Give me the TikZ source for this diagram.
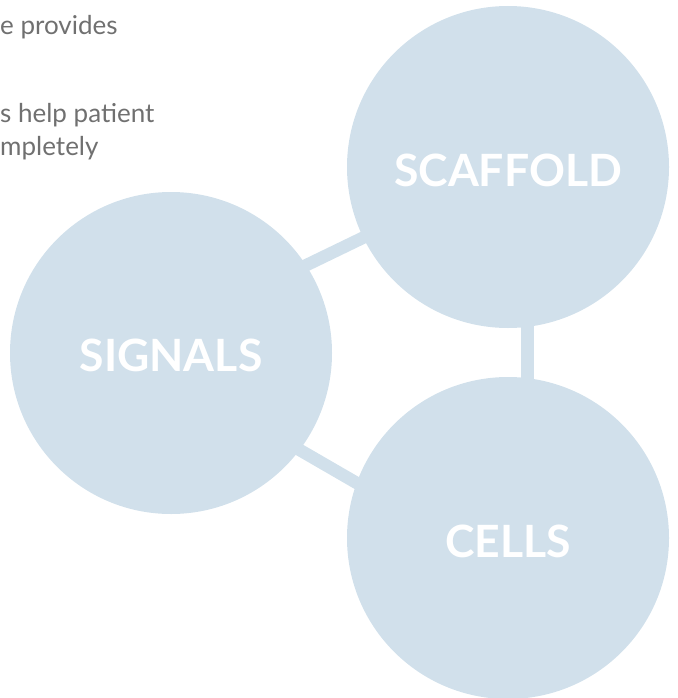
\documentclass[tikz,border=0pt]{standalone}
\usepackage{fontspec}
\setmainfont{Lato}
\definecolor{bubble}{HTML}{D1E0EB}
\definecolor{greytext}{HTML}{707070}
\begin{document}
\begin{tikzpicture}[x=1pt,y=-1pt,
  bubblenode/.style={circle,fill=bubble,minimum size=322pt,inner sep=0pt,
    text=white,font=\fontsize{44.5}{44.5}\selectfont\bfseries},
  link/.style={draw=bubble,line width=12.5pt,shorten <=-12pt,shorten >=-12pt},
  bodytext/.style={text=greytext,font=\fontsize{26}{30}\selectfont,anchor=base west,inner sep=0pt}]
\useasboundingbox (0,0) rectangle (677,698);
\node[bodytext] (t1) at (0,35) {e provides};
\node[bodytext] (t2) at (0,122) {s help patient};
\node[bodytext] (t3) at (0,155) {mpletely};
\node[bubblenode] (sca) at (508,167) {};
\node[bubblenode] (sig) at (171,353) {};
\node[bubblenode] (cel) at (508,538) {};
\draw[link] (sig.33) -- (sca.206);
\draw[link] (sca.277) -- (cel.83);
\draw[link] (sig.-37) -- (cel.160);
\node[bubblenode,fill=none] at ([yshift=-3pt]sca.center) {SCAFFOLD};
\node[bubblenode,fill=none] at ([yshift=-2pt]sig.center) {SIGNALS};
\node[bubblenode,fill=none] at ([yshift=-3pt]cel.center) {CELLS};
\end{tikzpicture}
\end{document}
